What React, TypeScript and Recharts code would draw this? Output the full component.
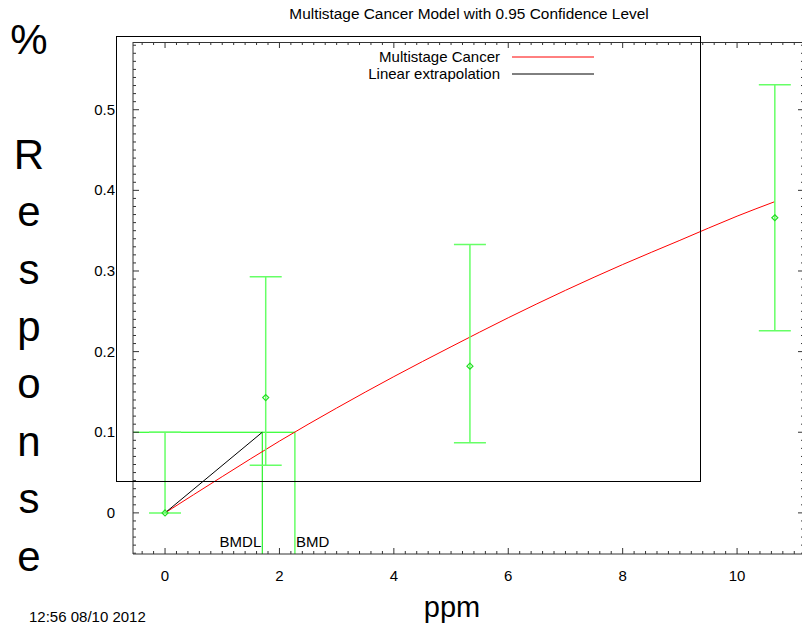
import {
  ComposedChart,
  XAxis,
  YAxis,
  Line,
  Scatter,
  ErrorBar,
  ReferenceLine,
  Legend,
} from "recharts";

// observed dose groups
const doses = [0, 1.76, 5.33, 10.66];
const observed = [0, 0.143, 0.182, 0.366];
const lowerCI = [0, 0.059, 0.087, 0.226];
const upperCI = [0.1, 0.293, 0.333, 0.531];

// fitted multistage curve
const curveDoses = [0, 1, 2, 3, 4, 5, 6, 7, 8, 9, 10, 10.66];
const curveResponse = [0, 0.045, 0.089, 0.13, 0.169, 0.206, 0.242, 0.276, 0.308, 0.338, 0.368, 0.386];

const BMR = 0.1;
const BMD = 2.27;
const BMDL = 1.7;

const xMajorTicks = [0, 2, 4, 6, 8, 10];
const yMajorTicks = [0, 0.1, 0.2, 0.3, 0.4, 0.5];
const legendNames = ["Multistage Cancer", "Linear extrapolation"];

const X_MIN = -0.56;
const X_MAX = 11.17;
const Y_MIN = -0.051;
const Y_MAX = 0.584;

const xMinorTicks = Array.from({ length: 58 }, (_, i) => Math.round(-4 + i * 2) / 10);
const yMinorTicks = Array.from({ length: 64 }, (_, i) => (i - 5) / 100);

const points = doses.map((x, i) => ({
  x,
  y: observed[i],
  err: [observed[i] - lowerCI[i], upperCI[i] - observed[i]],
}));
const curve = curveDoses.map((x, i) => ({ x, y: curveResponse[i] }));
const extrapolation = [
  { x: 0, y: 0 },
  { x: BMDL, y: BMR },
];

const AXIS = "#333";
const FONT = "'Liberation Sans', Arial, sans-serif";

// plot frame (from the chart margins below)
const PLOT_LEFT = 133;
const PLOT_RIGHT = 804;
const PLOT_TOP = 42;
const topX = (v: number) => PLOT_LEFT + ((v - X_MIN) / (X_MAX - X_MIN)) * (PLOT_RIGHT - PLOT_LEFT);

const isMajor = (list: number[], v: number) => list.some((t) => Math.abs(t - v) < 1e-6);

const LeftTick = ({ x, y, payload }: any) => {
  const major = isMajor(yMajorTicks, payload.value);
  return (
    <g>
      <line x1={x} x2={x + (major ? 6 : 3)} y1={y} y2={y} stroke={AXIS} />
      {major && (
        <text x={x - 18} y={y + 5} textAnchor="end" fontSize={15} fill="#000">
          {String(payload.value)}
        </text>
      )}
    </g>
  );
};

const RightTick = ({ x, y, payload }: any) => {
  const major = isMajor(yMajorTicks, payload.value);
  return <line x1={x} x2={x - (major ? 6 : 3)} y1={y} y2={y} stroke={AXIS} />;
};

const BottomTick = ({ x, y, payload }: any) => {
  const major = isMajor(xMajorTicks, payload.value);
  return (
    <g>
      <line x1={x} x2={x} y1={y} y2={y - (major ? 6 : 3)} stroke={AXIS} />
      {major && (
        <text x={x} y={y + 27} textAnchor="middle" fontSize={15} fill="#000">
          {String(payload.value)}
        </text>
      )}
    </g>
  );
};

const Marker = ({ cx, cy }: any) => (
  <path
    d={`M${cx},${cy - 3}L${cx + 3},${cy}L${cx},${cy + 3}L${cx - 3},${cy}Z`}
    fill="none"
    stroke="#22dd22"
    strokeWidth={1.2}
  />
);

const LegendBox = ({ payload }: any) => {
  const items = legendNames
    .map((n) => (payload || []).find((p: any) => p.value === n))
    .filter(Boolean);
  return (
    <svg width={340} height={48}>
      {items.map((p: any, i: number) => (
        <g key={p.value}>
          <text x={220} y={16 + i * 17} textAnchor="end" fontSize={15} fill="#000">
            {p.value}
          </text>
          <line x1={232} x2={314} y1={11 + i * 17} y2={11 + i * 17} stroke={p.color} />
        </g>
      ))}
    </svg>
  );
};

const yLabel = ["%", "", "R", "e", "s", "p", "o", "n", "s", "e"];

export default function App() {
  return (
    <div
      style={{
        position: "absolute",
        left: 0,
        top: 0,
        width: 802,
        height: 627,
        overflow: "hidden",
        background: "#fff",
        fontFamily: FONT,
      }}
    >
      <ComposedChart
        width={810}
        height={627}
        margin={{ top: PLOT_TOP, right: 5, bottom: 43, left: 73 }}
      >
        <XAxis
          xAxisId="b"
          type="number"
          dataKey="x"
          domain={[X_MIN, X_MAX]}
          allowDataOverflow
          ticks={xMinorTicks}
          interval={0}
          tick={<BottomTick />}
          tickLine={false}
          tickSize={0}
          tickMargin={0}
          height={30}
          axisLine={{ stroke: AXIS }}
        />
        <YAxis
          yAxisId="l"
          type="number"
          dataKey="y"
          domain={[Y_MIN, Y_MAX]}
          allowDataOverflow
          ticks={yMinorTicks}
          interval={0}
          tick={<LeftTick />}
          tickLine={false}
          tickSize={0}
          tickMargin={0}
          width={60}
          axisLine={{ stroke: AXIS }}
        />
        <YAxis
          yAxisId="r"
          orientation="right"
          type="number"
          dataKey="y"
          domain={[Y_MIN, Y_MAX]}
          allowDataOverflow
          ticks={yMinorTicks}
          interval={0}
          tick={<RightTick />}
          tickLine={false}
          tickSize={0}
          tickMargin={0}
          width={1}
          axisLine={{ stroke: AXIS }}
        />

        <ReferenceLine
          xAxisId="b"
          yAxisId="l"
          ifOverflow="visible"
          segment={[
            { x: X_MIN, y: BMR },
            { x: BMD, y: BMR },
          ]}
          stroke="#00ff00"
        />
        <ReferenceLine
          xAxisId="b"
          yAxisId="l"
          ifOverflow="visible"
          segment={[
            { x: BMDL, y: BMR },
            { x: BMDL, y: Y_MIN },
          ]}
          stroke="#00ee00"
          label={{
            content: ({ viewBox }: any) => (
              <text
                x={viewBox.x - 1}
                y={viewBox.y + viewBox.height - 7}
                textAnchor="end"
                fontSize={15}
                fill="#000"
              >
                BMDL
              </text>
            ),
          }}
        />
        <ReferenceLine
          xAxisId="b"
          yAxisId="l"
          ifOverflow="visible"
          segment={[
            { x: BMD, y: BMR },
            { x: BMD, y: Y_MIN },
          ]}
          stroke="#66ff66"
          strokeWidth={1.5}
          label={{
            content: ({ viewBox }: any) => (
              <text
                x={viewBox.x + 1}
                y={viewBox.y + viewBox.height - 7}
                textAnchor="start"
                fontSize={15}
                fill="#000"
              >
                BMD
              </text>
            ),
          }}
        />

        <Line
          xAxisId="b"
          yAxisId="l"
          data={curve}
          dataKey="y"
          name="Multistage Cancer"
          type="monotone"
          stroke="#ff0000"
          strokeWidth={1}
          dot={false}
          activeDot={false}
          isAnimationActive={false}
        />
        <Line
          xAxisId="b"
          yAxisId="l"
          data={extrapolation}
          dataKey="y"
          name="Linear extrapolation"
          type="linear"
          stroke="#000000"
          strokeWidth={1}
          dot={false}
          activeDot={false}
          isAnimationActive={false}
        />
        <Scatter
          xAxisId="b"
          yAxisId="l"
          data={points}
          dataKey="y"
          legendType="none"
          shape={<Marker />}
          isAnimationActive={false}
        >
          <ErrorBar
            dataKey="err"
            direction="y"
            width={16}
            stroke="#66ff66"
            strokeWidth={1.5}
            isAnimationActive={false}
          />
        </Scatter>

        <Legend
          layout="vertical"
          align="center"
          verticalAlign="middle"
          content={<LegendBox />}
          wrapperStyle={{ left: 280, top: 46, width: 340, height: 48 }}
        />
      </ComposedChart>

      <svg
        width={802}
        height={627}
        style={{ position: "absolute", left: 0, top: 0, pointerEvents: "none" }}
      >
        <text x={469} y={19} textAnchor="middle" fontSize={15.4} fill="#000">
          Multistage Cancer Model with 0.95 Confidence Level
        </text>
        {/* top border of the plot with its inward ticks */}
        <line x1={PLOT_LEFT} x2={PLOT_RIGHT} y1={PLOT_TOP + 0.5} y2={PLOT_TOP + 0.5} stroke={AXIS} />
        {xMinorTicks.map((t) => (
          <line
            key={t}
            x1={topX(t)}
            x2={topX(t)}
            y1={PLOT_TOP}
            y2={PLOT_TOP + (isMajor(xMajorTicks, t) ? 6 : 3)}
            stroke={AXIS}
          />
        ))}
        <rect x={116.5} y={36.5} width={584} height={445} fill="none" stroke="#000" />
        <text x={29} textAnchor="middle" fontSize={42} fill="#000">
          {yLabel.map((c, i) => (
            <tspan key={i} x={29} y={54 + i * 57.4}>
              {c || " "}
            </tspan>
          ))}
        </text>
        <text x={452} y={617} textAnchor="middle" fontSize={29} fill="#000">
          ppm
        </text>
        <text x={29} y={622} fontSize={15} fill="#000">
          12:56 08/10 2012
        </text>
      </svg>
    </div>
  );
}
